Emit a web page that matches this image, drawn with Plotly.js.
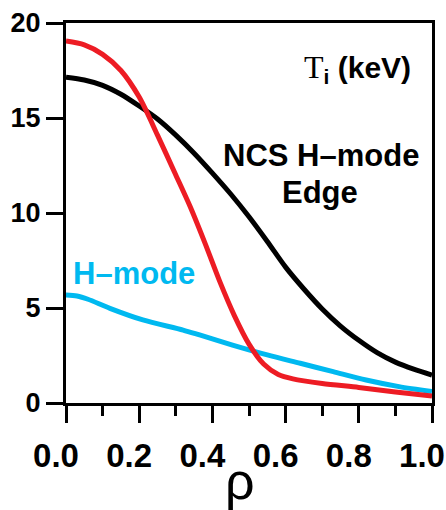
<!DOCTYPE html>
<html>
<head>
<meta charset="utf-8">
<script src="https://cdn.plot.ly/plotly-3.0.1.min.js"></script>
<style>
  html, body { margin: 0; padding: 0; background: #fff; }
  #chart { width: 446px; height: 510px; }
</style>
</head>
<body>
<div id="chart"></div>
<script>
// Ion temperature profiles Ti(rho), keV
const rhoRed = [0, 0.05, 0.10, 0.15, 0.20, 0.25, 0.30, 0.34, 0.38, 0.42, 0.46, 0.50, 0.54, 0.58, 0.62, 0.70, 0.80, 0.90, 1.0];
const tiRed  = [19.05, 18.85, 18.35, 17.5, 16.1, 14.1, 12.0, 10.3, 8.4, 6.4, 4.6, 3.1, 2.05, 1.5, 1.27, 1.03, 0.82, 0.58, 0.37];

const rhoBlack = [0, 0.05, 0.10, 0.15, 0.20, 0.25, 0.30, 0.35, 0.40, 0.45, 0.50, 0.55, 0.60, 0.65, 0.70, 0.75, 0.80, 0.85, 0.90, 0.95, 1.0];
const tiBlack  = [17.15, 17.0, 16.72, 16.25, 15.63, 14.95, 14.1, 13.15, 12.1, 11.0, 9.8, 8.5, 7.15, 6.0, 4.95, 4.05, 3.3, 2.65, 2.15, 1.78, 1.47];

const rhoCyan = [0, 0.03, 0.06, 0.12, 0.21, 0.32, 0.365, 0.455, 0.55, 0.64, 0.73, 0.82, 0.91, 1.0];
const tiCyan  = [5.68, 5.63, 5.46, 4.98, 4.37, 3.84, 3.58, 3.05, 2.53, 2.09, 1.65, 1.21, 0.86, 0.6];

const xTicks = [0, 0.2, 0.4, 0.6, 0.8, 1.0];
const yTicks = [0, 5, 10, 15, 20];

const RED = '#ed1c24', BLACK = '#000000', CYAN = '#00b9f0';
const SANS = 'Liberation Sans, Arial, sans-serif';

function curve(x, y, color) {
  return {
    x: x, y: y, type: 'scatter', mode: 'lines',
    line: { color: color, width: 5, shape: 'spline', smoothing: 0.8 },
    hoverinfo: 'skip', showlegend: false
  };
}

const traces = [
  curve(rhoBlack, tiBlack, BLACK),
  curve(rhoCyan, tiCyan, CYAN),
  curve(rhoRed, tiRed, RED)
];

const layout = {
  width: 446, height: 510,
  margin: { l: 66, r: 14, t: 23, b: 107 },
  paper_bgcolor: '#fff', plot_bgcolor: '#fff',
  showlegend: false,
  xaxis: {
    range: [0, 1], tickvals: xTicks, tickformat: '.1f',
    ticks: 'outside', ticklen: 17, tickwidth: 3, tickcolor: '#000',
    minor: { dtick: 0.1, ticks: 'outside', ticklen: 10, tickwidth: 3, tickcolor: '#000' },
    showline: true, linewidth: 3, linecolor: '#000', mirror: true,
    showgrid: false, zeroline: false,
    ticklabelshift: -10, ticklabelstandoff: 4, ticklabeloverflow: 'allow',
    tickfont: { family: SANS, size: 33, color: '#000', weight: 'bold' }
  },
  yaxis: {
    range: [0, 20], tickvals: yTicks,
    ticks: 'outside', ticklen: 17, tickwidth: 3, tickcolor: '#000',
    showline: true, linewidth: 3, linecolor: '#000', mirror: true,
    showgrid: false, zeroline: false, ticklabeloverflow: 'allow',
    tickfont: { family: SANS, size: 27, color: '#000', weight: 'bold' }
  },
  annotations: [
    { text: 'H–mode', xref: 'paper', yref: 'paper', x: 0.185, y: 0.3395,
      xanchor: 'center', yanchor: 'middle', showarrow: false,
      font: { family: SANS, size: 31, color: CYAN, weight: 'bold' } },
    { text: 'NCS H–mode', xref: 'paper', yref: 'paper', x: 0.696, y: 0.6526,
      xanchor: 'center', yanchor: 'middle', showarrow: false,
      font: { family: SANS, size: 31, color: BLACK, weight: 'bold' } },
    { text: 'Edge', xref: 'paper', yref: 'paper', x: 0.694, y: 0.554,
      xanchor: 'center', yanchor: 'middle', showarrow: false,
      font: { family: SANS, size: 31, color: BLACK, weight: 'bold' } },
    { text: "<span style='font-family:Liberation Serif;font-weight:normal;font-size:32px'>T</span><sub>i</sub> (keV)",
      xref: 'paper', yref: 'paper', x: 0.796, y: 0.879,
      xanchor: 'center', yanchor: 'middle', showarrow: false,
      font: { family: SANS, size: 30, color: BLACK, weight: 'bold' } },
    { text: 'ρ', xref: 'paper', yref: 'paper', x: 0.4747, y: -0.1237,
      xanchor: 'center', yanchor: 'top', showarrow: false,
      font: { family: SANS, size: 52, color: BLACK } }
  ]
};

Plotly.newPlot('chart', traces, layout, { staticPlot: true, displayModeBar: false });
</script>
</body>
</html>
